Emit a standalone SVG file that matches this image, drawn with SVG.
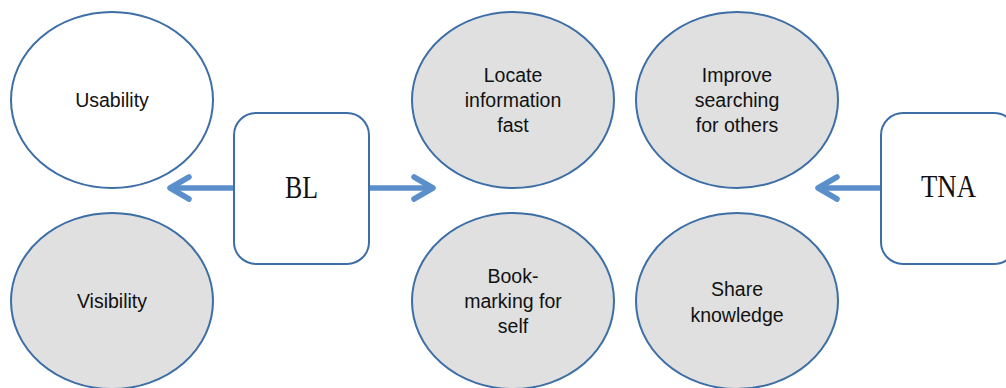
<svg xmlns="http://www.w3.org/2000/svg" width="1006" height="388" viewBox="0 0 1006 388">
  <defs>
    <style>
      .oval { stroke: #3d6ea5; stroke-width: 2; }
      .filled { fill: #e0e0e0; }
      .plain { fill: #ffffff; }
      .box { fill: #ffffff; stroke: #3d6ea5; stroke-width: 2; }
      .label { font-family: "Liberation Sans", Arial, sans-serif; font-size: 19.5px; fill: #111111; text-anchor: middle; }
      .title { font-family: "Liberation Serif", "Times New Roman", serif; font-size: 32px; fill: #111111; text-anchor: middle; }
      .shaft { stroke: #5b8fcb; stroke-width: 5.5; fill: none; }
      .head { stroke: #5b8fcb; stroke-width: 5.5; fill: none; stroke-linecap: round; stroke-linejoin: round; }
    </style>
  </defs>

  <g id="connectors">
    <!-- BL to the left -->
    <line class="shaft" x1="234" y1="188" x2="172" y2="188"/>
    <polyline class="head" points="189,177 170,188 189,199"/>
    <!-- BL to the right -->
    <line class="shaft" x1="369" y1="188" x2="431" y2="188"/>
    <polyline class="head" points="414,177 433,188 414,199"/>
    <!-- TNA to the left -->
    <line class="shaft" x1="881" y1="188" x2="820" y2="188"/>
    <polyline class="head" points="837,177 818,188 837,199"/>
  </g>

  <g id="usability">
    <ellipse class="oval plain" cx="112" cy="100" rx="101" ry="88"/>
    <text class="label" x="112" y="107">Usability</text>
  </g>

  <g id="visibility">
    <ellipse class="oval filled" cx="112" cy="301" rx="101" ry="88"/>
    <text class="label" x="112" y="308">Visibility</text>
  </g>

  <g id="bl">
    <rect class="box" x="234" y="113" width="135" height="151" rx="22" ry="22"/>
    <text class="title" x="301.5" y="198" textLength="33" lengthAdjust="spacingAndGlyphs">BL</text>
  </g>

  <g id="locate">
    <ellipse class="oval filled" cx="513" cy="100" rx="101" ry="88"/>
    <text class="label" x="513" y="82">Locate</text>
    <text class="label" x="513" y="107">information</text>
    <text class="label" x="513" y="132">fast</text>
  </g>

  <g id="improve">
    <ellipse class="oval filled" cx="737" cy="100" rx="101" ry="88"/>
    <text class="label" x="737" y="82">Improve</text>
    <text class="label" x="737" y="107">searching</text>
    <text class="label" x="737" y="132">for others</text>
  </g>

  <g id="bookmarking">
    <ellipse class="oval filled" cx="513" cy="301" rx="101" ry="88"/>
    <text class="label" x="513" y="283">Book-</text>
    <text class="label" x="513" y="308">marking for</text>
    <text class="label" x="513" y="333">self</text>
  </g>

  <g id="share">
    <ellipse class="oval filled" cx="737" cy="301" rx="101" ry="88"/>
    <text class="label" x="737" y="296">Share</text>
    <text class="label" x="737" y="322">knowledge</text>
  </g>

  <g id="tna">
    <rect class="box" x="881" y="113" width="135" height="151" rx="22" ry="22"/>
    <text class="title" x="948.5" y="197" textLength="55" lengthAdjust="spacingAndGlyphs">TNA</text>
  </g>
</svg>
